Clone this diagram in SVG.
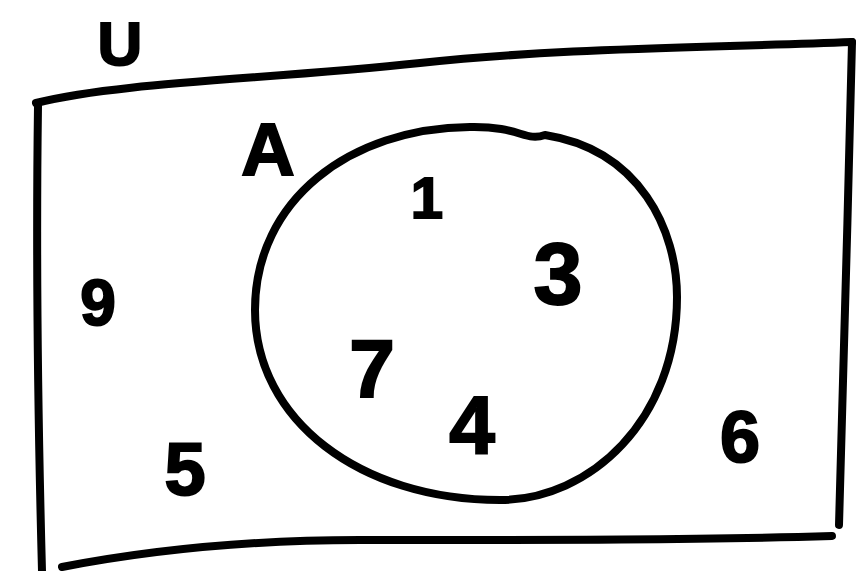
<svg xmlns="http://www.w3.org/2000/svg" width="861" height="571" viewBox="0 0 861 571">
<style>
.ln{fill:none;stroke:#000;stroke-width:8;stroke-linecap:round;stroke-linejoin:round}
.t{font-family:"Liberation Sans",Arial,sans-serif;font-weight:bold;fill:#000;stroke:#000;stroke-width:2;text-anchor:middle}
</style>
<rect width="861" height="571" fill="#fff"/>
<g id="universe">
<path class="ln" d="M36,103 C120,82 260,80 420,63 C560,48 700,48 852,42"/>
<path class="ln" d="M852,42 C848,200 843,400 839,525"/>
<path class="ln" d="M62,567 C150,550 250,540 360,540 C560,540 700,540 832,536"/>
<path class="ln" d="M38,106 C36,250 38,420 42,571"/>
<text class="t" x="120" y="65" font-size="62">U</text>
</g>
<g id="setA">
<path class="ln" d="M255,310 C255,200 350,128 470,127 C520,126 525,142 545,135 C640,150 677,230 677,297 C677,420 590,500 500,500 C360,500 255,420 255,310 Z"/>
<text class="t" x="268" y="175" font-size="74">A</text>
</g>
<g id="elements">
<text class="t" x="427" y="218" font-size="58">1</text>
<text class="t" x="558" y="304" font-size="88">3</text>
<text class="t" x="372" y="397" font-size="82">7</text>
<text class="t" x="472" y="453" font-size="82">4</text>
<text class="t" x="98" y="325" font-size="64">9</text>
<text class="t" x="740" y="462" font-size="72">6</text>
<text class="t" x="185" y="495" font-size="74">5</text>
</g>
</svg>
